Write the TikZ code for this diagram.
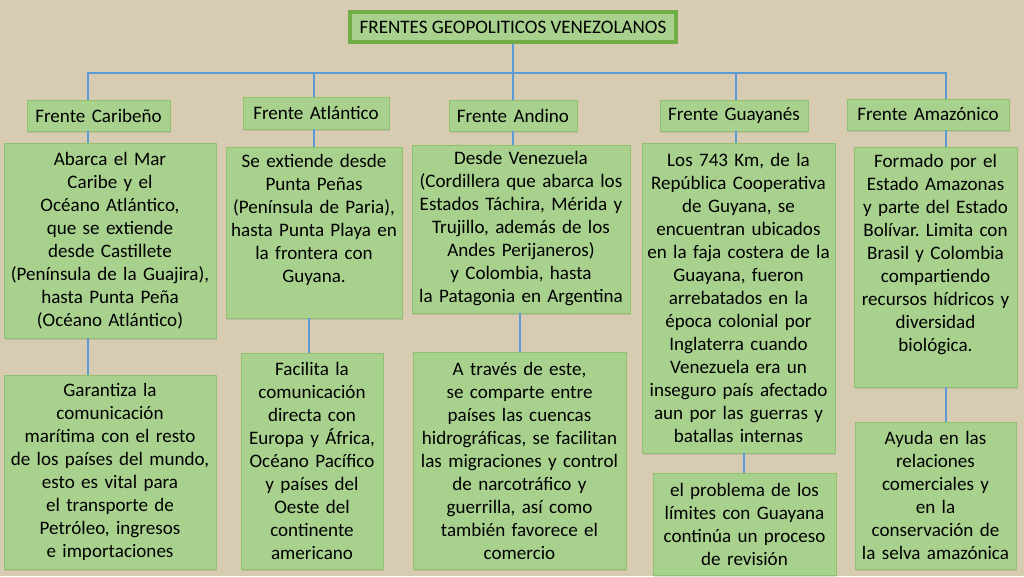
\documentclass[tikz,border=0pt]{standalone}
\usepackage{fontspec}
\setmainfont{Carlito}
\frenchspacing
\usetikzlibrary{shadows}
\definecolor{paper}{HTML}{D7CBB2}
\definecolor{leaf}{HTML}{A9D18E}
\definecolor{leafline}{HTML}{8FC26F}
\definecolor{titleline}{HTML}{70AD47}
\definecolor{wire}{HTML}{5B9BD5}
\def\BusY{73}
\def\BusLeft{88}
\def\BusRight{946}
\newcommand\frentefont{\fontsize{14.3}{17.25}\selectfont}
\tikzset{
  frente/.style 2 args={draw=leafline, line width=0.5pt, fill=leaf, inner sep=0pt,
    align=center, font=\frentefont, minimum width=#1, text width=#1, minimum height=#2,
    drop shadow={shadow xshift=1pt, shadow yshift=-1.2pt, opacity=0.25}},
  link/.style={draw=wire, line width=2.2pt}
}

\begin{document}
\begin{tikzpicture}[x=0.75pt,y=-0.75pt]
  \useasboundingbox (0,0) rectangle (1024,576);
  \fill[paper] (0,0) rectangle (1024,576);
  % title
  \node[draw=titleline, line width=3pt, fill=leaf, inner sep=0pt, font=\frentefont,
    minimum width=244.5pt, minimum height=22.5pt] (title) at (513,27) {FRENTES GEOPOLITICOS VENEZOLANOS};
  % headers
  \node[frente={107.25pt}{23.25pt}] (hCar) at (98.5,115.5) {Frente Caribeño};
  \node[frente={109.5pt}{24pt}] (hAtl) at (316,113) {Frente Atlántico};
  \node[frente={96pt}{23.25pt}] (hAnd) at (513,115.5) {Frente Andino};
  \node[frente={111pt}{23.25pt}] (hGuy) at (734,115.5) {Frente Guayanés};
  \node[frente={121.5pt}{23.25pt}] (hAma) at (928,114.5) {Frente Amazónico};
  % first row
  \node[frente={159pt}{146.25pt}] (cCar) at (110,240.5) {Abarca el Mar\\Caribe y el\\Océano Atlántico,\\que se extiende\\desde Castillete\\(Península de la Guajira),\\hasta Punta Peña\\(Océano Atlántico)};
  \node[frente={132pt}{128.25pt}, text height=15pt, text depth=113.25pt] (cAtl) at (314,232.5) {Se extiende desde\\Punta Peñas\\(Península de Paria),\\hasta Punta Playa en\\la frontera con\\Guyana.};
  \node[frente={163.5pt}{126pt}] (cAnd) at (521,229) {Desde Venezuela\\(Cordillera que abarca los\\Estados Táchira, Mérida y\\Trujillo, además de los\\Andes Perijaneros)\\y Colombia, hasta\\la Patagonia en Argentina};
  \node[frente={144.75pt}{232.5pt}] (cGuy) at (738.5,298) {Los 743 Km, de la\\República Cooperativa\\de Guyana, se\\encuentran ubicados\\en la faja costera de la\\Guayana, fueron\\arrebatados en la\\época colonial por\\Inglaterra cuando\\Venezuela era un\\inseguro país afectado\\aun por las guerras y\\batallas internas};
  \node[frente={122.25pt}{180pt}, text height=15.5pt, text depth=164.5pt] (cAma) at (935.5,267) {Formado por el\\Estado Amazonas\\y parte del Estado\\Bolívar. Limita con\\Brasil y Colombia\\compartiendo\\recursos hídricos y\\diversidad\\biológica.};
  % second row
  \node[frente={159pt}{145.5pt}] (dCar) at (110,472) {Garantiza la\\comunicación\\marítima con el resto\\de los países del mundo,\\esto es vital para\\el transporte de\\Petróleo, ingresos\\e importaciones};
  \node[frente={106.5pt}{162pt}] (dAtl) at (312,461) {Facilita la\\comunicación\\directa con\\Europa y África,\\Océano Pacífico\\y países del\\Oeste del\\continente\\americano};
  \node[frente={159.75pt}{162.75pt}] (dAnd) at (519.5,460.5) {A través de este,\\se comparte entre\\países las cuencas\\hidrográficas, se facilitan\\las migraciones y control\\de narcotráfico y\\guerrilla, así como\\también favorece el\\comercio};
  \node[frente={137.25pt}{76.5pt}] (dGuy) at (744.5,524) {el problema de los\\límites con Guayana\\continúa un proceso\\de revisión};
  \node[frente={120.75pt}{110.25pt}] (dAma) at (935.5,495.5) {Ayuda en las\\relaciones\\comerciales y\\en la\\conservación de\\la selva amazónica};
  % bus
  \coordinate (busL) at (\BusLeft,\BusY);
  \coordinate (busR) at (\BusRight,\BusY);
  \draw[link, line cap=rect] (busL) -- (busR);
  \draw[link] (title.south) -- (hAnd.north);
  % columns
  \foreach \n/\xa/\xb in {Car/88/88, Atl/314/309, And/513/520, Guy/736/744, Ama/946/946}{
    \coordinate (t\n) at (\xa,\BusY);
    \coordinate (b\n) at (\xb,0);
    \draw[link] (t\n) -- (h\n.north -| t\n);
    \draw[link] (h\n.south -| t\n) -- (c\n.north -| t\n);
    \draw[link] (c\n.south -| b\n) -- (d\n.north -| b\n);
  }
\end{tikzpicture}
\end{document}
